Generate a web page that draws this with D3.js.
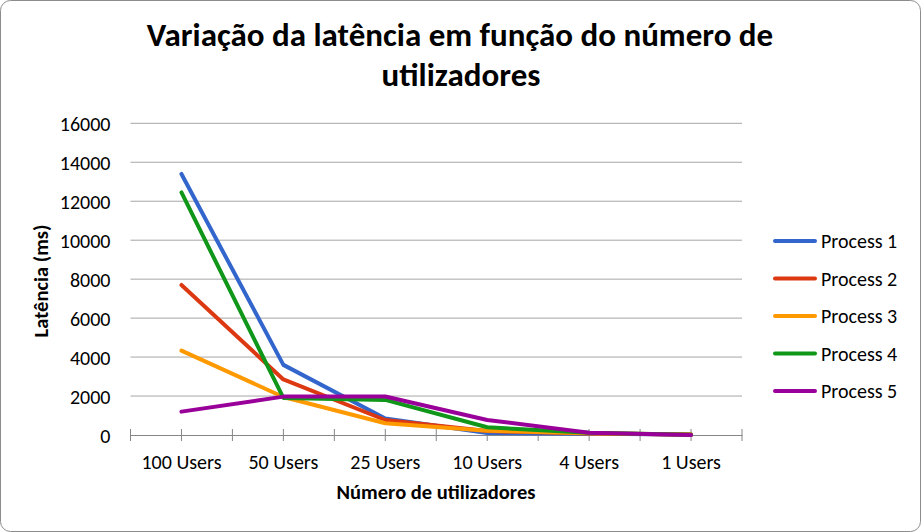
<!DOCTYPE html>
<html><head><meta charset="utf-8">
<script src="https://cdn.jsdelivr.net/npm/d3@7"></script>
<style>body{margin:0;background:#fff}svg{display:block}</style>
</head><body>
<svg id="c" width="921" height="532"></svg>
<script>
const categories = ["100 Users","50 Users","25 Users","10 Users","4 Users","1 Users"];
const seriesNames = ["Process 1","Process 2","Process 3","Process 4","Process 5"];
const process1 = [13400, 3600, 850, 100, 60, 20];
const process2 = [7700, 2850, 770, 200, 80, 30];
const process3 = [4330, 1950, 600, 220, 90, 20];
const process4 = [12450, 1900, 1800, 395, 110, 10];
const process5 = [1200, 1970, 1980, 770, 120, 0];
const yTicks = [0,2000,4000,6000,8000,10000,12000,14000,16000];
const colors = ["#3366cc","#dc3912","#ff9900","#109618","#990099"];
const seriesData = [process1, process2, process3, process4, process5];

const svg = d3.select("#c");
const font = "Calibri, Carlito, 'Open Sans', sans-serif";
svg.append("rect").attr("x",0.5).attr("y",0.5).attr("width",920).attr("height",531)
  .attr("rx",10).attr("fill","#fff").attr("stroke","#8c8c8c");

const L=130.5, R=742, T=123.3, B=435;
const x = d3.scaleBand().domain(categories).range([L,R]);
const y = d3.scaleLinear().domain([0,16000]).range([B,T]);

// gridlines
svg.append("g").selectAll("line").data(yTicks.filter(d=>d>0)).join("line")
  .attr("x1",L).attr("x2",R).attr("y1",d=>y(d)).attr("y2",d=>y(d))
  .attr("stroke","#a6a6a6").attr("stroke-width",1);

// y axis labels
const ya = svg.append("g").attr("transform",`translate(${L},0)`)
  .call(d3.axisLeft(y).tickValues(yTicks).tickFormat(d3.format("d")).tickSize(0).tickPadding(20));
ya.select(".domain").remove();
ya.selectAll("text").attr("font-family",font).attr("font-size",20).attr("fill","#000").attr("dy","0.35em");

// x axis
const xa = svg.append("g").attr("transform",`translate(0,${B})`)
  .call(d3.axisBottom(x).tickSize(0).tickPadding(20));
xa.select(".domain").attr("stroke","#868686");
xa.selectAll("text").attr("font-family",font).attr("font-size",20).attr("fill","#000")
  .attr("y",34).attr("dy",0);
const tickPos = [];
categories.forEach((c,i)=>{ tickPos.push(x(c)); tickPos.push(x(c)+x.bandwidth()/2); });
tickPos.push(R);
svg.append("g").selectAll("line").data(tickPos).join("line")
  .attr("x1",d=>d).attr("x2",d=>d).attr("y1",B-6).attr("y2",B+6)
  .attr("stroke","#868686").attr("stroke-width",1);

// lines
const line = d3.line().x((d,i)=>x(categories[i])+x.bandwidth()/2).y(d=>y(d));
seriesData.forEach((s,k)=>{
  svg.append("path").datum(s).attr("d",line).attr("fill","none")
    .attr("stroke",colors[k]).attr("stroke-width",4)
    .attr("stroke-linecap","round").attr("stroke-linejoin","round");
});

// title
const title = svg.append("text").attr("text-anchor","middle").attr("font-family",font)
  .attr("font-weight","bold").attr("font-size",33).attr("fill","#000");
title.append("tspan").attr("x",460).attr("y",46).text("Variação da latência em função do número de");
title.append("tspan").attr("x",461).attr("y",86).text("utilizadores");

// axis titles
svg.append("text").attr("x",436).attr("y",499).attr("text-anchor","middle")
  .attr("font-family",font).attr("font-weight","bold").attr("font-size",20.5).text("Número de utilizadores");
svg.append("text").attr("transform","translate(48,281) rotate(-90)").attr("text-anchor","middle")
  .attr("font-family",font).attr("font-weight","bold").attr("font-size",20.5).text("Latência (ms)");

// legend
const lg = svg.append("g");
seriesNames.forEach((n,k)=>{
  const yy = 241 + k*37.5;
  lg.append("line").attr("x1",775).attr("x2",815).attr("y1",yy).attr("y2",yy)
    .attr("stroke",colors[k]).attr("stroke-width",4).attr("stroke-linecap","round");
  lg.append("text").attr("x",821).attr("y",yy+7).attr("font-family",font)
    .attr("font-size",20).attr("fill","#000").text(n);
});
</script>
</body></html>
